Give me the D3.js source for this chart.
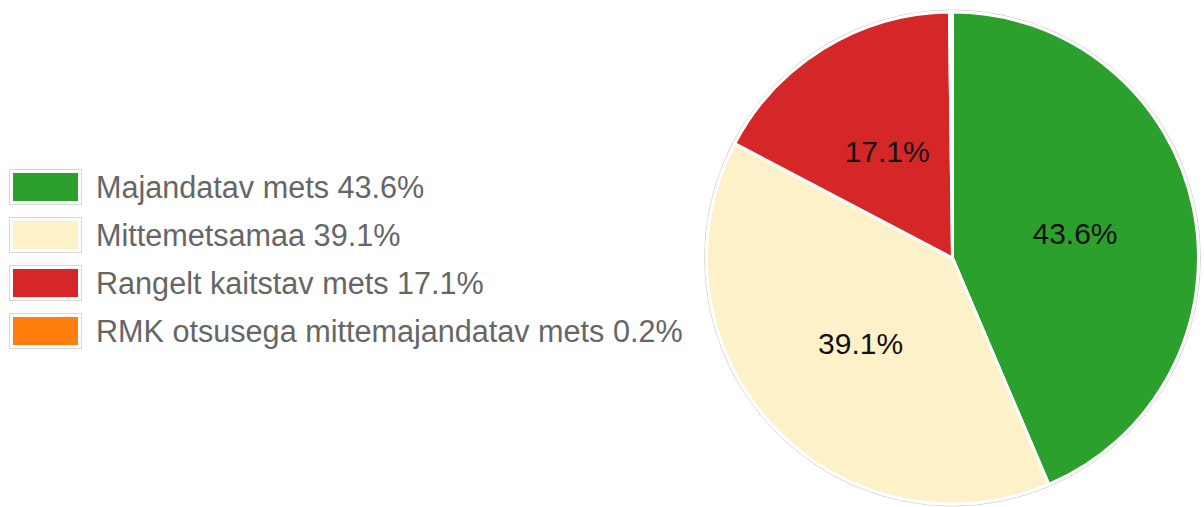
<!DOCTYPE html>
<html>
<head>
<meta charset="utf-8">
<script src="https://cdn.jsdelivr.net/npm/d3@7"></script>
<style>
  body { margin: 0; background: #fff; }
  svg { display: block; font-family: Arial, "Liberation Sans", sans-serif; }
</style>
</head>
<body>
<svg id="chart" width="1204" height="507"></svg>
<script>
// data
const categories = ["Majandatav mets", "Mittemetsamaa", "Rangelt kaitstav mets", "RMK otsusega mittemajandatav mets"];
const shares = [43.6, 39.1, 17.1, 0.2];
const colors = ["#2ca02c", "#fcf1c8", "#d62728", "#ff7f0e"];

const data = categories.map((c, i) => ({ name: c, value: shares[i], color: colors[i] }));

const svg = d3.select("#chart");
const cx = 952.5, cy = 258, radius = 246;

const pie = d3.pie().sort(null).value(d => d.value);
const arc = d3.arc().innerRadius(0).outerRadius(radius);
const labelArc = d3.arc().innerRadius(125).outerRadius(125);

const g = svg.append("g").attr("transform", `translate(${cx},${cy})`);

// thin grey outline round the pie
g.append("circle")
  .attr("r", radius + 2)
  .attr("fill", "none")
  .attr("stroke", "#d4d4d4")
  .attr("stroke-width", 1);

const arcs = pie(data);

g.selectAll("path")
  .data(arcs)
  .enter()
  .append("path")
  .attr("d", arc)
  .attr("fill", d => d.data.color)
  .attr("stroke", "#fff")
  .attr("stroke-width", 3);

g.selectAll("text.lbl")
  .data(arcs.filter(d => d.data.value > 5))
  .enter()
  .append("text")
  .attr("class", "lbl")
  .attr("transform", d => `translate(${labelArc.centroid(d)})`)
  .attr("text-anchor", "middle")
  .attr("dy", "0.36em")
  .attr("fill", "#111")
  .style("font-size", "30px")
  .text(d => d.data.value.toFixed(1) + "%");

// legend
const legend = svg.append("g").attr("transform", "translate(9,169)");
const row = legend.selectAll("g")
  .data(data)
  .enter()
  .append("g")
  .attr("transform", (d, i) => `translate(0,${i * 48})`);

row.append("rect")
  .attr("x", 0.5).attr("y", 0.5)
  .attr("width", 72).attr("height", 35)
  .attr("fill", "#fff")
  .attr("stroke", "#d8d8d8");

row.append("rect")
  .attr("x", 4).attr("y", 4)
  .attr("width", 65).attr("height", 28)
  .attr("fill", d => d.color);

row.append("text")
  .attr("x", 87)
  .attr("y", 29)
  .attr("fill", "#666")
  .style("font-size", "30.6px")
  .text(d => d.name + " " + d.value.toFixed(1) + "%");
</script>
</body>
</html>
